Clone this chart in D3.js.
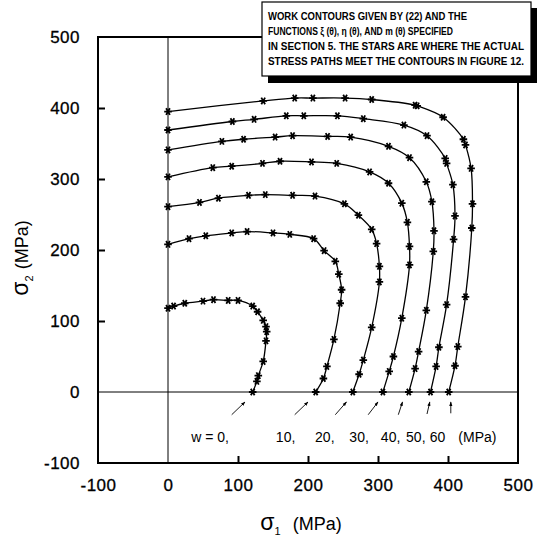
<!DOCTYPE html>
<html>
<head>
<meta charset="utf-8">
<script src="https://cdn.jsdelivr.net/npm/d3@7"></script>
<style>
  body { margin: 0; background: #fff; }
  svg { display: block; font-family: "Liberation Sans", Arial, sans-serif; }
</style>
</head>
<body>
<div id="chart"></div>
<script>
// work contours, star points [sigma1, sigma2] in MPa
var w0 = [[0,118],[8,121],[24,125],[50,128],[65,130],[86,129],[100,129],[121,121],[128,113],[136,101],[140,92],[141,85],[140,72],[136,43],[129,23],[127,15],[121,0]];
var w10 = [[0,208],[30,216],[54,220],[91,224],[113,226],[150,224],[174,222],[208,216],[223,199],[239,184],[244,166],[248,144],[246,125],[237,74],[227,36],[222,19],[211,0]];
var w20 = [[0,261],[45,267],[72,273],[115,277],[139,278],[178,277],[210,276],[252,265],[272,249],[291,229],[298,209],[302,177],[302,155],[291,91],[279,45],[273,25],[264,0]];
var w30 = [[0,303],[64,316],[91,318],[135,322],[160,325],[205,324],[241,322],[288,310],[315,294],[334,266],[342,239],[345,205],[345,179],[334,104],[322,50],[316,29],[307,0]];
var w40 = [[0,341],[77,353],[108,356],[153,359],[178,361],[228,360],[261,359],[315,346],[345,330],[369,296],[377,268],[380,227],[379,198],[369,115],[358,57],[353,33],[344,0]];
var w50 = [[0,369],[92,381],[123,384],[169,389],[194,389],[242,389],[279,385],[337,376],[370,361],[396,329],[398,322],[407,292],[410,248],[408,215],[398,123],[387,63],[383,36],[375,0]];
var w60 = [[0,395],[136,410],[181,414],[207,414],[253,414],[291,412],[353,404],[356,403],[393,387],[422,356],[425,348],[433,315],[435,265],[434,231],[425,134],[414,64],[410,37],[401,0]];
var contours = [w0, w10, w20, w30, w40, w50, w60];

var xTickLabels = [-100, 0, 100, 200, 300, 400, 500];
var yTickLabels = [-100, 0, 100, 200, 300, 400, 500];
var innerTicks = [100, 200, 300, 400];

// "w = 0, 10, ..." labels under the axis and the arrows pointing to the curve ends
var wLabels = ["w = 0,", "10,", "20,", "30,", "40,", "50,", "60"];
var wLabelX = [60, 168, 224, 273, 318, 354, 385];
var arrowFrom = [[91,-32],[181,-32],[239,-32],[286,-32],[329,-32],[370,-31],[404,-30]];
var arrowTo = [[110,-14],[200,-14],[255,-14],[300,-14],[335,-14],[374,-14],[404,-14]];

var noteLines = [
  "WORK CONTOURS GIVEN BY (22) AND THE",
  "FUNCTIONS  \u03be (\u03b8), \u03b7 (\u03b8), AND m (\u03b8) SPECIFIED",
  "IN SECTION 5. THE STARS ARE WHERE THE ACTUAL",
  "STRESS PATHS MEET THE CONTOURS IN FIGURE 12."
];
var noteWidths = [199, 185, 256, 256];

var width = 539, height = 544;
var margin = {top: 37, right: 21, bottom: 81, left: 98};

var svg = d3.select("#chart").append("svg")
  .attr("width", width).attr("height", height);

var x = d3.scaleLinear().domain([-100, 500]).range([margin.left, width - margin.right]);
var y = d3.scaleLinear().domain([-100, 500]).range([height - margin.bottom, margin.top]);

svg.append("defs").append("marker")
  .attr("id", "arr").attr("viewBox", "0 0 10 10")
  .attr("refX", 9).attr("refY", 5)
  .attr("markerWidth", 5).attr("markerHeight", 5)
  .attr("orient", "auto")
  .append("path").attr("d", "M0,1.5L10,5L0,8.5Z").attr("fill", "#000");

// zero lines
svg.append("line")
  .attr("x1", x(0)).attr("x2", x(0)).attr("y1", y(-100)).attr("y2", y(500))
  .attr("stroke", "#000").attr("stroke-width", 1);
svg.append("line")
  .attr("x1", x(-100)).attr("x2", x(500)).attr("y1", y(0)).attr("y2", y(0))
  .attr("stroke", "#000").attr("stroke-width", 1);

// contours
var line = d3.line()
  .x((d) => { return x(d[0]); })
  .y((d) => { return y(d[1]); })
  .curve(d3.curveCatmullRom.alpha(0.5));

svg.selectAll("path.contour").data(contours).enter().append("path")
  .attr("class", "contour")
  .attr("d", line)
  .attr("fill", "none").attr("stroke", "#000").attr("stroke-width", 1.3);

var star = d3.symbol().type(d3.symbolAsterisk).size(40);
contours.forEach(function(c) {
  svg.selectAll(null).data(c).enter().append("path")
    .attr("d", star)
    .attr("transform", (d) => { return "translate(" + x(d[0]) + "," + y(d[1]) + ") rotate(90)"; })
    .attr("fill", "none").attr("stroke", "#000").attr("stroke-width", 1.8);
});

// frame
svg.append("rect")
  .attr("x", x(-100)).attr("y", y(500))
  .attr("width", x(500) - x(-100)).attr("height", y(-100) - y(500))
  .attr("fill", "none").attr("stroke", "#000").attr("stroke-width", 2);

// axes: labels only, then inward ticks
var fmt = (d) => String(d);
var yAxis = svg.append("g").attr("transform", "translate(" + x(-100) + ",0)")
  .call(d3.axisLeft(y).tickValues(yTickLabels).tickSize(0).tickPadding(18).tickFormat(fmt));
var xAxis = svg.append("g").attr("transform", "translate(0," + y(-100) + ")")
  .call(d3.axisBottom(x).tickValues(xTickLabels).tickSize(0).tickPadding(16).tickFormat(fmt));
[yAxis, xAxis].forEach(function(g) {
  g.select(".domain").remove();
  g.selectAll("text").attr("font-size", 17).attr("font-family", "Liberation Sans, Arial, sans-serif")
    .attr("letter-spacing", 0.5).attr("fill", "#000").attr("stroke", "#000").attr("stroke-width", 0.3);
});
svg.append("g").attr("transform", "translate(" + x(-100) + ",0)")
  .call(d3.axisLeft(y).tickValues(innerTicks).tickSize(-7).tickFormat(""))
  .call((g) => g.select(".domain").remove())
  .selectAll("line").attr("stroke-width", 2);
svg.append("g").attr("transform", "translate(0," + y(-100) + ")")
  .call(d3.axisBottom(x).tickValues(innerTicks).tickSize(-7).tickFormat(""))
  .call((g) => g.select(".domain").remove())
  .selectAll("line").attr("stroke-width", 2);

// w labels and arrows
svg.selectAll("text.wlab").data(wLabels).enter().append("text")
  .attr("class", "wlab")
  .attr("x", (d, i) => x(wLabelX[i])).attr("y", y(-64) + 5)
  .attr("text-anchor", "middle").attr("font-size", 14).text((d) => d);
svg.append("text").attr("x", x(442)).attr("y", y(-64) + 5)
  .attr("text-anchor", "middle").attr("font-size", 14).text("(MPa)");
svg.selectAll("line.arrow").data(arrowFrom).enter().append("line")
  .attr("class", "arrow")
  .attr("x1", (d) => x(d[0])).attr("y1", (d) => y(d[1]))
  .attr("x2", (d, i) => x(arrowTo[i][0])).attr("y2", (d, i) => y(arrowTo[i][1]))
  .attr("stroke", "#000").attr("stroke-width", 0.9).attr("marker-end", "url(#arr)");

// axis titles
var xt = svg.append("text").attr("x", 301).attr("y", 530)
  .attr("text-anchor", "middle").attr("font-size", 18);
xt.append("tspan").attr("font-size", 23).text("\u03c3");
xt.append("tspan").attr("font-size", 11).attr("dy", 5).text("1");
xt.append("tspan").attr("dy", -5).attr("dx", 12).text("(MPa)");

var yt = svg.append("text").attr("transform", "translate(28,258) rotate(-90)")
  .attr("text-anchor", "middle").attr("font-size", 18);
yt.append("tspan").attr("font-size", 23).text("\u03c3");
yt.append("tspan").attr("font-size", 11).attr("dy", 5).text("2");
yt.append("tspan").attr("dy", -5).attr("dx", 6).text("(MPa)");

// note box with drop shadow
var note = svg.append("g");
note.append("rect").attr("x", 268).attr("y", 8).attr("width", 269).attr("height", 75).attr("fill", "#000");
note.append("rect").attr("x", 262).attr("y", 2).attr("width", 269).attr("height", 74)
  .attr("fill", "#fff").attr("stroke", "#000").attr("stroke-width", 1.2);
note.selectAll("text").data(noteLines).enter().append("text")
  .attr("x", 268).attr("y", (d, i) => 20 + i * 15)
  .attr("font-size", 10.5).attr("font-weight", "bold")
  .attr("textLength", (d, i) => noteWidths[i]).attr("lengthAdjust", "spacingAndGlyphs")
  .text((d) => d);
</script>
</body>
</html>
